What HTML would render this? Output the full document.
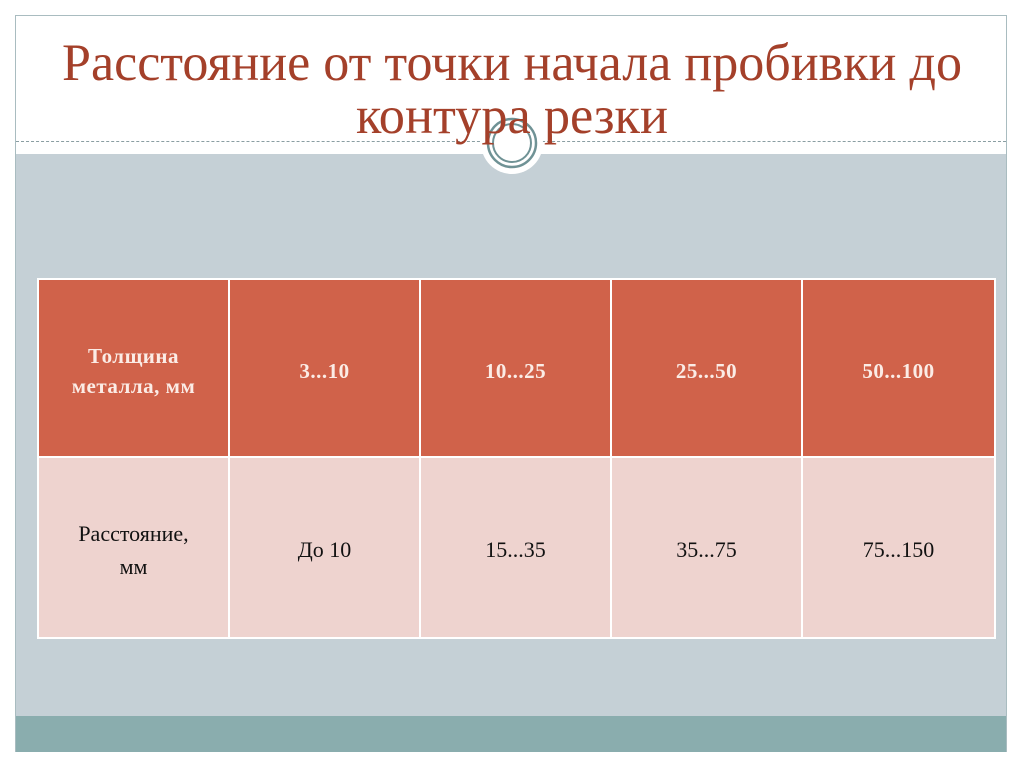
<!DOCTYPE html>
<html><head><meta charset="utf-8"><style>
body{margin:0;width:1024px;height:767px;background:#fff;position:relative;overflow:hidden;font-family:"Liberation Serif",serif}
.frame{position:absolute;left:15px;top:15px;width:992px;height:737px;border:1px solid #a9bcc0;box-sizing:border-box;background:#fff}
.gray{position:absolute;left:16px;top:154px;width:990px;height:562px;background:#c5d0d6}
.teal{position:absolute;left:16px;top:716px;width:990px;height:36px;background:#8aadae}
.dash{position:absolute;left:16px;top:141px;width:990px;border-top:1px dashed #8a9ea2}
table{position:absolute;left:37px;top:278px;width:959px;border-collapse:collapse}
td{border:2px solid #fff;text-align:center;padding:0}
tr.h td{background:#d0624a;color:#fbece6;font-weight:bold;font-size:21px;line-height:30px;height:178px;vertical-align:middle;padding-top:6px;box-sizing:border-box;letter-spacing:0.5px}
tr.b td{background:#eed3cf;color:#111;font-size:22px;line-height:33px;height:181px;padding-top:4px;box-sizing:border-box}
</style></head><body>
<div class="frame"></div>
<div class="gray"></div>
<div class="teal"></div>
<div class="dash"></div>
<svg width="1024" height="767" style="position:absolute;left:0;top:0">
<circle cx="512" cy="143" r="31" fill="#fff"/>
<circle cx="512" cy="143" r="24" fill="none" stroke="#6f9295" stroke-width="2.5"/>
<circle cx="512" cy="143" r="19" fill="none" stroke="#6f9295" stroke-width="2"/>
<text x="512" y="80" text-anchor="middle" font-family="Liberation Serif" font-size="53" fill="#a4402a" textLength="900" lengthAdjust="spacingAndGlyphs">Расстояние от точки начала пробивки до</text>
<text x="512" y="133" text-anchor="middle" font-family="Liberation Serif" font-size="53" fill="#a4402a" textLength="312" lengthAdjust="spacingAndGlyphs">контура резки</text>
</svg>
<table>
<tr class="h"><td style="width:191px">Толщина<br>металла, мм</td><td style="width:191px">3...10</td><td style="width:191px">10...25</td><td style="width:191px">25...50</td><td>50...100</td></tr>
<tr class="b"><td>Расстояние,<br>мм</td><td>До 10</td><td>15...35</td><td>35...75</td><td>75...150</td></tr>
</table>
</body></html>
